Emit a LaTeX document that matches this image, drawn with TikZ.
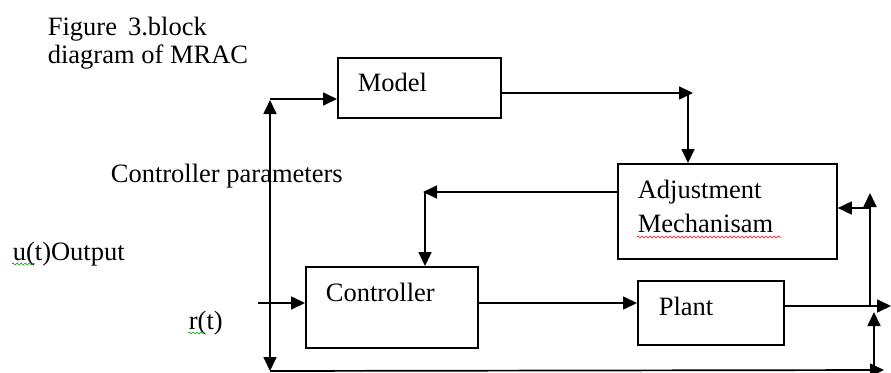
\documentclass[tikz,border=0pt]{standalone}
\usepackage{fontspec}
\setmainfont{Liberation Serif}
\usepackage{tikz}
\usetikzlibrary{arrows.meta,decorations.pathmorphing}

\tikzset{
	blk/.style={rectangle, draw=black, line width=1.8pt, anchor=north west, inner sep=0pt},
	lbl/.style={anchor=base west, inner sep=0pt, font=\fontsize{26.5}{30}\selectfont},
	wavy/.style={decorate, decoration={snake, segment length=4pt, amplitude=1pt}, line width=0.6pt},
	>={Triangle[length=14pt,width=13pt]}
}

\begin{document}
\begin{tikzpicture}[x=1pt, y=-1pt, line width=1.7pt]
		\useasboundingbox (0,0) rectangle (891,372);

		% blocks
		\node[blk, minimum width=163pt, minimum height=60pt] (model) at (337,57) {};
		\node[blk, minimum width=219pt, minimum height=95pt] (adjust) at (617,163) {};
		\node[blk, minimum width=172pt, minimum height=81pt] (ctrl) at (305,266) {};
		\node[blk, minimum width=146pt, minimum height=64pt] (plant) at (637,280) {};

		\node[lbl] (modeltxt) at (357,91) {Model};
		\node[lbl] (adjtxt) at (637,198) {Adjustment};
		\node[lbl] (mechtxt) at (637,232) {Mechanisam};
		\node[lbl] (ctrltxt) at (325,301) {Controller};
		\node[lbl] (planttxt) at (658,315) {Plant};

		% free labels
		\node[lbl] (fig1) at (47,35) {Figure\, 3.block};
		\node[lbl] (fig2) at (47,63) {diagram of MRAC};
		\node[lbl] (params) at (110,182) {Controller parameters};
		\node[lbl] (uout) at (12,260) {u(t)Output};
		\node[lbl] (rin) at (188,329) {r(t)};

		\draw[wavy, green!60!black] (12,264) -- (35,264);
		\draw[wavy, green!60!black] (188,333) -- (204,333);
		\draw[wavy, red] (637,237) -- (781,237);

		% connectors
		\coordinate (pt) at (270,100);
		\coordinate (pb) at (270,371);
		\coordinate (mc) at (688,93);
		\coordinate (ac) at (425,192);
		\coordinate (rs) at (258,303);
		\coordinate (po) at (891,306);
		\coordinate (rv) at (870,193);
		\coordinate (ra) at (870,208);
		\coordinate (br) at (884,370);
		\coordinate (rv2) at (874,312);

		\draw [<->] (pb) -- (pt);
		\draw [->] (270,99) -- (model.west |- 0,99);
		\draw [->] (model.east |- mc) -- ([xshift=5pt]mc);
		\draw [->] (mc) -- (mc |- adjust.north);
		\draw [->] (adjust.west |- ac) -- ([xshift=-2pt]ac);
		\draw [->] (ac) -- (ac |- ctrl.north);
		\draw [->] (rs) -- (rs -| ctrl.west);
		\draw [->] (ctrl.east |- rs) -- (plant.west |- rs);
		\draw [->] (plant.east |- po) -- (po);
		\draw [->] (rv |- po) -- (rv);
		\draw [->] (ra) -- (ra -| adjust.east);
		\draw [->] (pb) -- (br);
		\draw [->] (rv2 |- br) -- (rv2);
	\end{tikzpicture}
\end{document}
